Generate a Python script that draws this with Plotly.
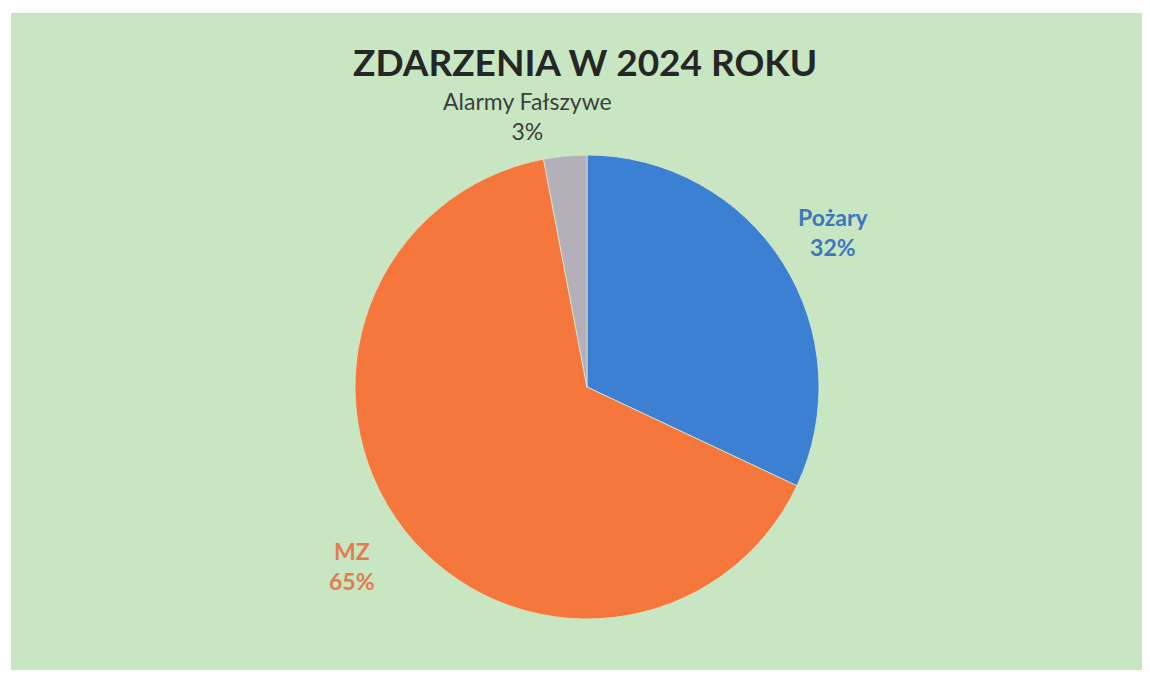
import plotly.graph_objects as go

labels = ["Pożary", "MZ", "Alarmy Fałszywe"]
values = [32, 65, 3]
colors = ["#3b80d2", "#f5773b", "#b3b0ba"]
label_colors = ["#3d78bf", "#e07d4e", "#3f3f3f"]
label_bold = [True, True, False]
label_size = [23, 23, 23]
# label centre positions (pixels from top-left of the page)
label_pos = [(833, 232), (352, 566), (527, 116)]

W, H = 1150, 680
OFF = 8  # page body margin
cx, cy, r = 587, 387, 232


def px(x):
    return (x - OFF) / W


def py(y):
    return 1 - (y - OFF) / H


fig = go.Figure()
fig.add_trace(go.Pie(
    labels=labels, values=values, sort=False, direction="clockwise", rotation=0,
    marker=dict(colors=colors, line=dict(color="#d8e8d0", width=0.8)),
    textinfo="none", hoverinfo="label+percent", showlegend=False,
    domain=dict(x=[px(cx - r), px(cx + r)], y=[py(cy + r), py(cy - r)]),
))

total = sum(values)
for lab, v, col, b, sz, (lx, ly) in zip(labels, values, label_colors, label_bold, label_size, label_pos):
    pct = f"{round(100 * v / total)}%"
    txt = f"<b>{lab}<br>{pct}</b>" if b else f"{lab}<br>{pct}"
    fig.add_annotation(x=px(lx), y=py(ly), xref="paper", yref="paper",
                       xanchor="center", yanchor="middle",
                       text=txt, showarrow=False, align="center",
                       font=dict(family="Lato", size=sz, color=col))

fig.add_annotation(x=px(585), y=py(62), xref="paper", yref="paper",
                   xanchor="center", yanchor="middle",
                   text="<b>ZDARZENIA W 2024 ROKU</b>", showarrow=False,
                   font=dict(family="Lato", size=37, color="#262626"))

fig.add_shape(type="rect", xref="paper", yref="paper", layer="below",
              x0=px(11), x1=1.02, y0=py(670), y1=py(13),
              fillcolor="#c7e6c1", line=dict(width=0))

fig.update_layout(width=W, height=H, margin=dict(l=0, r=0, t=0, b=0),
                  paper_bgcolor="white", plot_bgcolor="white")
fig.write_html("out.html")
